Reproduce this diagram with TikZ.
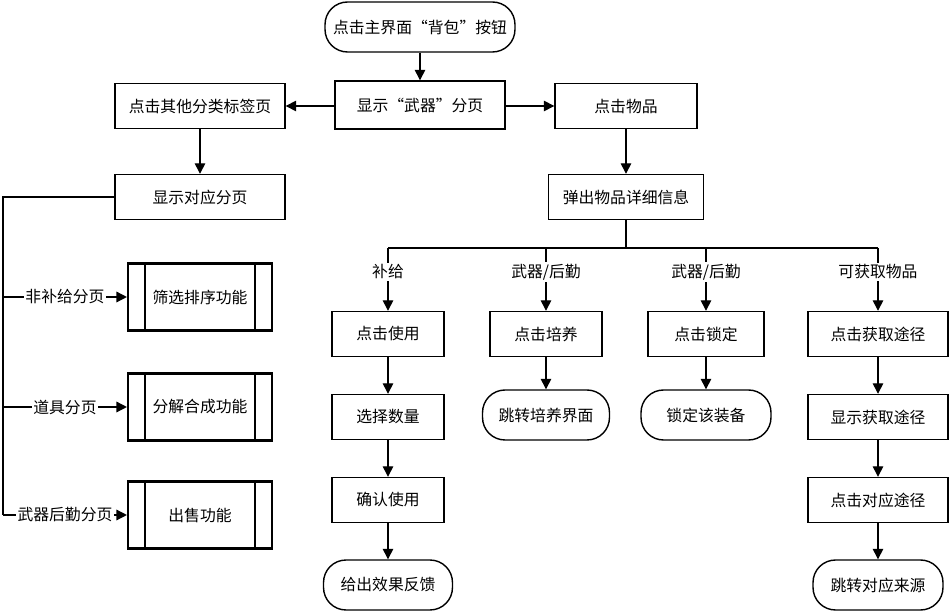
\documentclass[tikz,border=0pt]{standalone}
\usepackage{fontspec}
\setmainfont{Noto Sans CJK SC}
\usetikzlibrary{arrows.meta}

\begin{document}
\begin{tikzpicture}
[x=0.02cm,y=-0.02cm,font=\fontsize{9}{11}\selectfont,
%%%%%%%%%%%%%%%%%%%%%%%%%%%%%%
box/.style={rectangle,draw=black,thick,minimum height=0.9cm},
term/.style={rectangle,rounded corners=0.45cm,draw=black,thick,minimum height=1cm},
proc/.style={rectangle,draw=black,very thick,minimum width=2.88cm,minimum height=1.34cm},
lbl/.style={fill=white,inner sep=1pt},
arr/.style={thick,-{Triangle[length=6pt,width=6pt]}},
]%%%%%%%%%%%%%%%%%%%%%%%%%%%%%%
\useasboundingbox (0,0) rectangle (950,614);

\node[term,minimum width=3.8cm] (start) at (420,27){点击主界面“背包”按钮};
\node[box,minimum width=3.4cm,minimum height=0.96cm] (weapon) at (420,105){显示“武器”分页};
\node[box,minimum width=3.4cm] (other) at (200,106){点击其他分类标签页};
\node[box,minimum width=2.84cm] (item) at (626,106){点击物品};
\node[box,minimum width=3.4cm] (page) at (200,197){显示对应分页};
\node[box,minimum width=3.1cm] (info) at (626,197){弹出物品详细信息};

\draw[arr] (start) -- (weapon);
\draw[arr] (weapon.west |- other) -- (other);
\draw[arr] (weapon.east |- item) -- (item);
\draw[arr] (other) -- (page);
\draw[arr] (item) -- (info);

% left functions
\node[proc] (sort) at (200,297){筛选排序功能};
\node[proc] (merge) at (200,407){分解合成功能};
\node[proc] (sell) at (200,515){出售功能};
\foreach \p in {sort,merge,sell}{
\draw[very thick] ([xshift=0.36cm]\p.north west) -- ([xshift=0.36cm]\p.south west);
\draw[very thick] ([xshift=-0.36cm]\p.north east) -- ([xshift=-0.36cm]\p.south east);
}
\coordinate (l0) at (3,197);
\coordinate (l1) at (3,297);
\coordinate (l2) at (3,407);
\coordinate (l3) at (3,515);
\draw[thick] (page.west) -- (l0) -- (l3);
\draw[arr] (l1) -- (sort.west) node[lbl,midway]{非补给分页};
\draw[arr] (l2) -- (merge.west) node[lbl,midway]{道具分页};
\draw[arr] (l3) -- (sell.west) node[lbl,midway]{武器后勤分页};

% branches
\coordinate (bus) at (626,248);
\coordinate (b1) at (388,248);
\coordinate (b2) at (546,248);
\coordinate (b3) at (706,248);
\coordinate (b4) at (878,248);
\draw[thick] (info) -- (bus);
\draw[thick] (b1) -- (b4);

\node[box,minimum width=2.24cm] (use) at (388,334){点击使用};
\node[box,minimum width=2.24cm] (num) at (388,417){选择数量};
\node[box,minimum width=2.24cm] (confirm) at (388,500){确认使用};
\node[term,minimum width=2.58cm] (effect) at (388,585){给出效果反馈};

\node[box,minimum width=2.24cm] (train) at (546,334){点击培养};
\node[term,minimum width=2.54cm] (trainui) at (546,415){跳转培养界面};

\node[box,minimum width=2.32cm] (lock) at (706,334){点击锁定};
\node[term,minimum width=2.6cm] (locked) at (706,415){锁定该装备};

\node[box,minimum width=2.8cm] (get) at (878,334){点击获取途径};
\node[box,minimum width=2.8cm] (show) at (878,417){显示获取途径};
\node[box,minimum width=2.8cm] (path) at (878,500){点击对应途径};
\node[term,minimum width=2.6cm] (jump) at (878,585){跳转对应来源};

\draw[arr] (b1) -- (use) node[lbl,pos=0.38]{补给};
\draw[arr] (b2) -- (train) node[lbl,pos=0.38]{武器/后勤};
\draw[arr] (b3) -- (lock) node[lbl,pos=0.38]{武器/后勤};
\draw[arr] (b4) -- (get) node[lbl,pos=0.38]{可获取物品};

\draw[arr] (use) -- (num);
\draw[arr] (num) -- (confirm);
\draw[arr] (confirm) -- (effect);
\draw[arr] (train) -- (trainui);
\draw[arr] (lock) -- (locked);
\draw[arr] (get) -- (show);
\draw[arr] (show) -- (path);
\draw[arr] (path) -- (jump);
\end{tikzpicture}
\end{document}
